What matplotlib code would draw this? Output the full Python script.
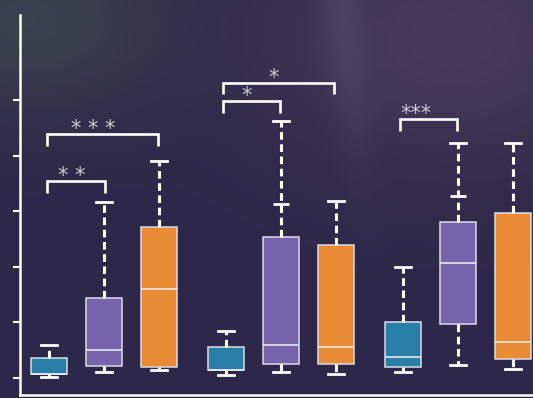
import numpy as np
import matplotlib
matplotlib.use('Agg')
import matplotlib.pyplot as plt

# box stats per group: teal, purple, orange
whislo = [0.01, 0.10, 0.14,  0.05, 0.10, 0.07,  0.10, 0.23, 0.16]
q1     = [0.07, 0.21, 0.19,  0.14, 0.26, 0.26,  0.20, 0.97, 0.34]
med    = [0.07, 0.50, 1.60,  0.14, 0.59, 0.55,  0.38, 2.06, 0.64]
q3     = [0.36, 1.44, 2.72,  0.56, 2.53, 2.40,  1.00, 2.81, 2.97]
whishi = [0.59, 3.17, 3.90,  0.85, 4.63, 3.18,  2.00, 4.23, 4.23]
# second cap drawn on some upper whiskers (box index, value)
extra_caps = [(4, 3.13), (7, 3.27)]

colors = ['#287ea6', '#7564ab', '#e98a35'] * 3
group_step = 3.2
positions = [g * group_step + i for g in range(3) for i in range(3)]

# significance brackets: (x0, x1, y, label, label_x)
brackets = [
    (-0.04, 1.02, 3.54, '* *', 0.42),
    (-0.04, 1.98, 4.39, '* * *', 0.81),
    (3.16, 4.18, 4.98, '*', 3.57),
    (3.16, 5.16, 5.31, '*', 4.07),
    (6.35, 7.39, 4.66, '***', 6.65),
]
leg = 0.21

bg = '#2d2849'
fig = plt.figure(figsize=(5.33, 3.98), dpi=100, facecolor=bg)

# soft background wash
bgax = fig.add_axes([0, 0, 1, 1], zorder=-1)
yy, xx = np.mgrid[0:1:200j, 0:1:260j]
base = np.array([0x2d, 0x28, 0x49]) / 255.0
img = np.ones((200, 260, 3)) * base
tl = np.exp(-((xx - 0.05) ** 2 / 0.08 + (yy - 0.05) ** 2 / 0.06))
img += tl[..., None] * (np.array([0x3a, 0x40, 0x4c]) / 255.0 - base)
tr = np.exp(-((xx - 0.85) ** 2 / 0.12 + (yy - 0.1) ** 2 / 0.1))
img += tr[..., None] * (np.array([0x48, 0x3a, 0x5a]) / 255.0 - base)
streak = np.exp(-((xx - 0.64 - 0.08 * yy) ** 2 / 0.0015)) * np.exp(-yy ** 2 / 0.15)
img += streak[..., None] * 0.05
bgax.imshow(np.clip(img, 0, 1), aspect='auto', extent=[0, 1, 0, 1], origin='upper')
bgax.axis('off')

ax = fig.add_axes([20 / 533, 3 / 398, 513 / 533, 380 / 398])
ax.set_facecolor('none')

stats = []
for i in range(len(positions)):
    stats.append(dict(whislo=whislo[i], q1=q1[i], med=med[i], q3=q3[i],
                      whishi=whishi[i], fliers=[]))

bp = ax.bxp(stats, positions=positions, widths=0.65, capwidths=0.29,
            patch_artist=True, showfliers=False,
            boxprops=dict(edgecolor='#dcdce6', linewidth=1.1),
            medianprops=dict(color='#f0f0f4', linewidth=1.1),
            whiskerprops=dict(color='white', linewidth=2.2, linestyle=(0, (2.5, 1.5))),
            capprops=dict(color='white', linewidth=2.0))
for patch, c in zip(bp['boxes'], colors):
    patch.set_facecolor(c)

for i, v in extra_caps:
    ax.hlines(v, positions[i] - 0.145, positions[i] + 0.145, color='white', linewidth=2.0)

for x0, x1, y, lab, lx in brackets:
    ax.plot([x0, x0, x1, x1], [y - leg, y, y, y - leg], color='white',
            linewidth=1.9, solid_joinstyle='miter', solid_capstyle='butt')
    ax.text(lx, y - 0.09, lab, ha='center', va='bottom', color='#c9c9d2', fontsize=15)

ax.set_xlim(-0.52, 8.76)
ax.set_ylim(-0.306, 6.53)
ax.set_yticks([0, 1, 2, 3, 4, 5])
ax.set_yticklabels([])
ax.set_xticks([])
ax.tick_params(axis='y', length=5, width=1.5, color='white', direction='out')
for s in ['top', 'right']:
    ax.spines[s].set_visible(False)
for s in ['left', 'bottom']:
    ax.spines[s].set_color('white')
    ax.spines[s].set_linewidth(1.8)

fig.savefig('out.png', dpi=100, facecolor=bg)
